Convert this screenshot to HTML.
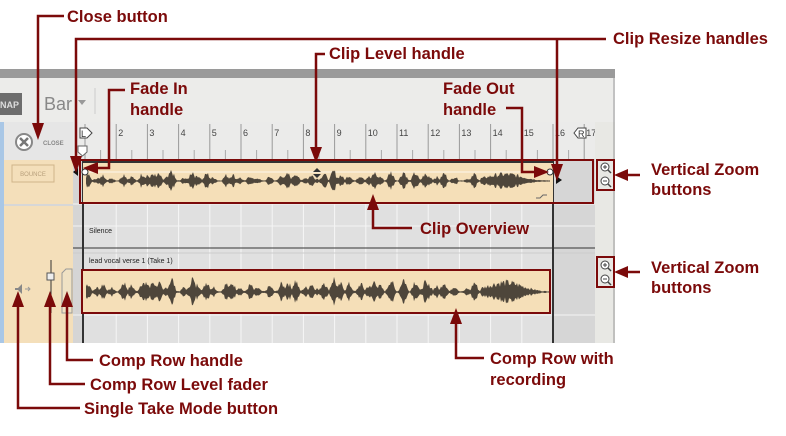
<!DOCTYPE html>
<html><head><meta charset="utf-8"><style>
body{margin:0;width:786px;height:431px;background:#fff;overflow:hidden;font-family:"Liberation Sans",Arial,sans-serif}
</style></head><body>
<svg id="s" width="786" height="431" xmlns="http://www.w3.org/2000/svg" font-family="Liberation Sans, Arial, sans-serif">
<rect x="0" y="69" width="615" height="9" fill="#9a9a9a"/>
<rect x="0" y="78" width="615" height="44" fill="#ececea"/>
<rect x="0" y="93" width="22" height="22" fill="#6d6d6d"/>
<text x="0" y="108" font-size="9" font-weight="bold" fill="#ddd">NAP</text>
<text x="44" y="110" font-size="18" fill="#888">Bar</text>
<path d="M78 100 l8 0 l-4 5z" fill="#999"/>
<line x1="95" y1="88" x2="95" y2="114" stroke="#ccc"/>
<rect x="0" y="122" width="615" height="221" fill="#e0e0e0"/>
<rect x="0" y="122" width="73" height="221" fill="#f4dfba"/>
<rect x="0" y="122" width="4" height="221" fill="#a9c7e6"/>
<rect x="4" y="122" width="69" height="38" fill="#e6e6e6"/>
<rect x="4" y="204" width="69" height="2" fill="#d7d7d7"/>
<circle cx="24" cy="142" r="8" fill="#fff" stroke="#888" stroke-width="2"/>
<path d="M20 138 l8 8 M28 138 l-8 8" stroke="#777" stroke-width="2.5"/>
<text x="43" y="145" font-size="6" font-weight="bold" fill="#888">CLOSE</text>
<rect x="12" y="165" width="42" height="17" fill="none" stroke="#d0b48a"/>
<text x="33" y="176" font-size="6" fill="#b8a07c" text-anchor="middle">BOUNCE</text>
<rect x="73" y="122" width="522" height="38" fill="#ebebea"/>
<line x1="73" y1="160" x2="595" y2="160" stroke="#bbb"/>
<g id="ruler"></g>
<path d="M80 128 h7 l5 5 l-5 5 h-7z" fill="#fff" stroke="#444"/><text x="81" y="137" font-size="9" fill="#333">L</text>
<path d="M78 146 h9 v6 l-4.5 4 l-4.5-4z" fill="#fff" stroke="#666"/>
<path d="M574 133 l4-5 h8 v10 h-8z" fill="#fff" stroke="#444"/><text x="578" y="137" font-size="9" fill="#333">R</text>
<rect x="73" y="160" width="10" height="183" fill="#d5d5d5"/>
<rect x="553" y="160" width="42" height="183" fill="#d6d6d6"/>
<rect x="595" y="122" width="20" height="221" fill="#e8e8e4"/>
<line x1="614" y1="78" x2="614" y2="343" stroke="#999"/>
<g id="grid"></g>
<line x1="73" y1="248" x2="595" y2="248" stroke="#333"/>
<line x1="73" y1="253" x2="595" y2="253" stroke="#ccc"/>
<line x1="83" y1="160" x2="83" y2="343" stroke="#333" stroke-width="2"/>
<line x1="553" y1="160" x2="553" y2="343" stroke="#333" stroke-width="2"/>
<text x="89" y="233" font-size="7" fill="#222">Silence</text>
<text x="89" y="263" font-size="7" fill="#222">lead vocal verse 1 (Take 1)</text>
<rect x="83" y="162" width="470" height="40" fill="#f5dfb8"/>
<line x1="83" y1="162" x2="553" y2="162" stroke="#333" stroke-width="2"/>
<line x1="86" y1="172" x2="550" y2="172" stroke="#fff" stroke-width="0.8"/>
<rect x="82" y="270" width="468" height="43" fill="#f5dfb8"/>
<g id="wav"></g>
<circle cx="85" cy="172" r="3" fill="#fff" stroke="#333"/>
<circle cx="550" cy="172" r="3" fill="#fff" stroke="#333"/>
<path d="M73 172 l5-4 v8z" fill="#111"/>
<path d="M562 180 l-6-4 v8z" fill="#111"/>
<path d="M313 172 l4-4 l4 4z M313 174 l4 4 l4-4z" fill="#333"/>
<path d="M536 198 h4 l3-3 h4" stroke="#666" fill="none"/>
<path d="M15 288 h3 l4-4 v10 l-4-4 h-3z" fill="#888"/>
<path d="M25 289 h5 m-2 -2 l2 2 l-2 2" stroke="#999" fill="none"/>
<line x1="51" y1="260" x2="51" y2="313" stroke="#333"/>
<rect x="47" y="273" width="7" height="7" fill="#eee" stroke="#555"/>
<path d="M62 313 v-40 l4-4 h6 v44z" fill="#f0e2c4" stroke="#999"/>
<g id="zb"></g>
<g fill="none" stroke="#7b0a0a" stroke-width="2">
<rect x="80" y="160" width="513" height="43"/>
<rect x="82" y="270" width="468" height="43"/>
<rect x="597" y="160" width="17" height="30"/>
<rect x="597" y="257" width="17" height="30"/>
</g>
<g stroke="#7b0a0a" stroke-width="2.5" fill="none">
<path d="M64 16 H38 V125"/>
<path d="M606 39 H76 V160"/>
<path d="M557 39 V168"/>
<path d="M325 54 H316 V150"/>
<path d="M125 90 H109 V168 H96"/>
<path d="M506 108 H522 V172 H536"/>
<path d="M640 175 H626"/>
<path d="M640 272 H626"/>
<path d="M412 228 H373 V208"/>
<path d="M484 358 H456 V322"/>
<path d="M93 360 H67 V305"/>
<path d="M85 384 H50 V305"/>
<path d="M80 408 H18 V305"/>
</g>
<g fill="#7b0a0a">
<path d="M32 123 h12 l-6 17z"/>
<path d="M70 156 h12 l-6 17z"/>
<path d="M551 164 h12 l-6 17z"/>
<path d="M310 147 h12 l-6 16z"/>
<path d="M98 162 v12 l-15 -6z"/>
<path d="M534 166 v12 l15 -6z"/>
<path d="M628 169 v12 l-14 -6z"/>
<path d="M628 266 v12 l-14 -6z"/>
<path d="M367 210 h12 l-6 -16z"/>
<path d="M450 324 h12 l-6 -16z"/>
<path d="M61 307 h12 l-6 -16z"/>
<path d="M44 307 h12 l-6 -16z"/>
<path d="M12 307 h12 l-6 -16z"/>
</g>
<g fill="#7b0a0a" font-size="16.5" font-weight="bold">
<text x="67" y="22">Close button</text>
<text x="613" y="44">Clip Resize handles</text>
<text x="329" y="59">Clip Level handle</text>
<text x="130" y="94">Fade In</text><text x="130" y="115">handle</text>
<text x="443" y="94">Fade Out</text><text x="443" y="115">handle</text>
<text x="651" y="175">Vertical Zoom</text><text x="651" y="195">buttons</text>
<text x="651" y="273">Vertical Zoom</text><text x="651" y="293">buttons</text>
<text x="420" y="234">Clip Overview</text>
<text x="490" y="364">Comp Row with</text><text x="490" y="385">recording</text>
<text x="99" y="366">Comp Row handle</text>
<text x="90" y="390">Comp Row Level fader</text>
<text x="84" y="414">Single Take Mode button</text>
</g>
</svg>
<script>
var NS="http://www.w3.org/2000/svg";
function el(p,t,a,txt){var e=document.createElementNS(NS,t);for(var k in a)e.setAttribute(k,a[k]);if(txt)e.textContent=txt;document.getElementById(p).appendChild(e);}
var sp=31.2,x0=85;
for(var i=1;i<=17;i++){var x=x0+(i-1)*sp;
 el("ruler","line",{x1:x,y1:124,x2:x,y2:160,stroke:"#999"});
 el("ruler","line",{x1:x+sp/2,y1:150,x2:x+sp/2,y2:160,stroke:"#aaa"});
 if(i>1)el("ruler","text",{x:x+2,y:136,"font-size":"9",fill:"#444"},""+i);
 if(i>1&&i<17)el("grid","line",{x1:x,y1:204,x2:x,y2:343,stroke:"#f6f6f6"});
}
el("grid","line",{x1:73,y1:204,x2:595,y2:204,stroke:"#f4f4f4"});
el("grid","line",{x1:73,y1:226,x2:595,y2:226,stroke:"#f4f4f4"});
el("grid","line",{x1:73,y1:315,x2:595,y2:315,stroke:"#f4f4f4"});
var seed=7;function r(){seed=(seed*9301+49297)%233280;return seed/233280;}
var bursts=[];for(var b=88;b<480;b+=4+r()*9)bursts.push([b,3+r()*10]);
function amp(x){var a=0.8;if(x>480&&x<548)a=Math.max(a,9*Math.exp(-Math.pow((x-505)/25,2)));
 for(var b=0;b<bursts.length;b++){var d=x-bursts[b][0];a=Math.max(a,bursts[b][1]*Math.exp(-d*d/12));}return a;}
function wave(cy,x1,x2,sc){var pts=[];for(var x=x1;x<=x2;x+=1){var a=amp(x)*sc*(0.5+r()*0.7);pts.push([x,a]);}
 var s="M"+x1+" "+cy;pts.forEach(function(p){s+=" L"+p[0]+" "+(cy-p[1]);});pts.reverse().forEach(function(p){s+=" L"+p[0]+" "+(cy+p[1]*0.9);});s+="Z";el("wav","path",{d:s,fill:"#4e463b"});}
wave(181,86,550,0.85);seed=7;wave(292,86,550,1.2);
[[605,167],[605,181],[605,265],[605,279]].forEach(function(p,i){
 el("zb","circle",{cx:p[0],cy:p[1],r:4,fill:"#fff",stroke:"#444"});
 el("zb","line",{x1:p[0]+3,y1:p[1]+3,x2:p[0]+6,y2:p[1]+6,stroke:"#444","stroke-width":1.5});
 el("zb","line",{x1:p[0]-2,y1:p[1],x2:p[0]+2,y2:p[1],stroke:"#444"});
 if(i%2==0)el("zb","line",{x1:p[0],y1:p[1]-2,x2:p[0],y2:p[1]+2,stroke:"#444"});
});
</script>
</body></html>
